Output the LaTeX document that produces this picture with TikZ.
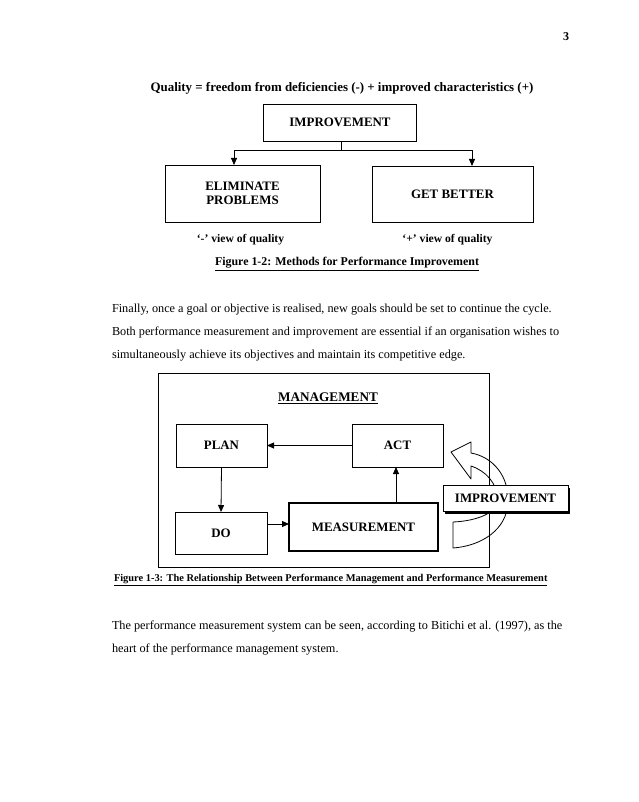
\documentclass[tikz,border=0pt]{standalone}
\usepackage{fontspec}
\setmainfont{Liberation Serif}
\usetikzlibrary{arrows.meta,shadows}
\begin{document}
\begin{tikzpicture}[x=1pt,y=-1pt,
  every node/.style={inner sep=0pt,outer sep=0pt},
  box/.style={draw,line width=0.8pt,fill=white,align=center,font=\bfseries\fontsize{12.9}{14}\selectfont},
  arr/.style={-{Triangle[length=7pt,width=6pt]},line width=0.8pt},
  body/.style={anchor=west,font=\fontsize{12.25}{13}\selectfont},
  lbl/.style={font=\bfseries\fontsize{11.6}{13}\selectfont}]
\useasboundingbox (0,0) rectangle (638,802);
% page number
\node[font=\bfseries\fontsize{12}{13}\selectfont] (pg) at (566,37) {3};
% ---------- Figure 1-2 ----------
\node[font=\bfseries\fontsize{12.9}{14}\selectfont] (title) at (342,88) {Quality = freedom from deficiencies (-) + improved characteristics (+)};
\node[box,minimum width=153,minimum height=37] (imp) at (340,122.5) {IMPROVEMENT};
\node[box,minimum width=155,minimum height=57] (elim) at (242.5,193.5) {ELIMINATE\\PROBLEMS};
\node[box,minimum width=161,minimum height=56] (get) at (452.5,194) {GET BETTER};
\coordinate (j) at (341,150);
\draw[line width=0.8pt] (imp.south -| j) -- (j);
\draw[arr] (j) -| ([xshift=-8.5pt]elim.north);
\draw[arr] (j) -| ([xshift=19.5pt]get.north);
\node[lbl] (lm) at (240.5,240) {`-' view of quality};
\node[lbl] (lp) at (447.5,240) {`+' view of quality};
\node[font=\bfseries\fontsize{11.9}{13}\selectfont] (cap1) at (347,264) {\underline{Figure 1-2: Methods for Performance Improvement}};
% ---------- paragraph ----------
\node[body] (p1) at (112,310) {Finally, once a goal or objective is realised, new goals should be set to continue the cycle.};
\node[body] (p2) at (112,333) {Both performance measurement and improvement are essential if an organisation wishes to};
\node[body] (p3) at (112,356) {simultaneously achieve its objectives and maintain its competitive edge.};
% ---------- Figure 1-3 ----------
\node[draw,line width=0.8pt,minimum width=331,minimum height=194] (mgmt) at (323.5,470) {};
\node[font=\bfseries\fontsize{13.2}{14}\selectfont] (mtitle) at (328,398) {\underline{MANAGEMENT}};
\node[box,minimum width=91,minimum height=43] (plan) at (221.5,445.5) {PLAN};
\node[box,minimum width=91,minimum height=43] (act) at (397.5,445.5) {ACT};
\node[box,minimum width=92,minimum height=42] (do) at (221,533) {DO};
\node[box,line width=1.8pt,minimum width=149,minimum height=48] (meas) at (363.5,527) {MEASUREMENT};
\draw[arr] (act.west) -- (plan.east);
\draw[arr] (plan.south) -- (do.north);
\draw[arr] ([yshift=9pt]do.east) -- ([yshift=9pt]do.east -| meas.west);
\draw[arr] ([xshift=-1.5pt]meas.north -| act.south) -- ([xshift=-1.5pt]act.south);
% curved block arrow
\draw[line width=0.8pt,line join=round]
  (453,522) -- (453,548)
  .. controls (481,546) and (507,530) .. (508,502)
  .. controls (509,476) and (493,457) .. (471,453)
  -- (471,442) -- (451,452) -- (471,479) -- (471,466)
  .. controls (486,471) and (497,483) .. (498,500)
  .. controls (498,512) and (478,521) .. (453,522) -- cycle;
\node[box,minimum width=125,minimum height=26,drop shadow={shadow xshift=2pt,shadow yshift=-2pt,fill=black,opacity=1}] (imp2) at (505.5,498.5) {IMPROVEMENT};
\node[font=\bfseries\fontsize{10.4}{12}\selectfont,anchor=west] (cap2) at (114,580) {\underline{Figure 1-3: The Relationship Between Performance Management and Performance Measurement}};
% ---------- last paragraph ----------
\node[body] (p4) at (112,627) {The performance measurement system can be seen, according to Bitichi et al. (1997), as the};
\node[body] (p5) at (112,650) {heart of the performance management system.};
\end{tikzpicture}
\end{document}
